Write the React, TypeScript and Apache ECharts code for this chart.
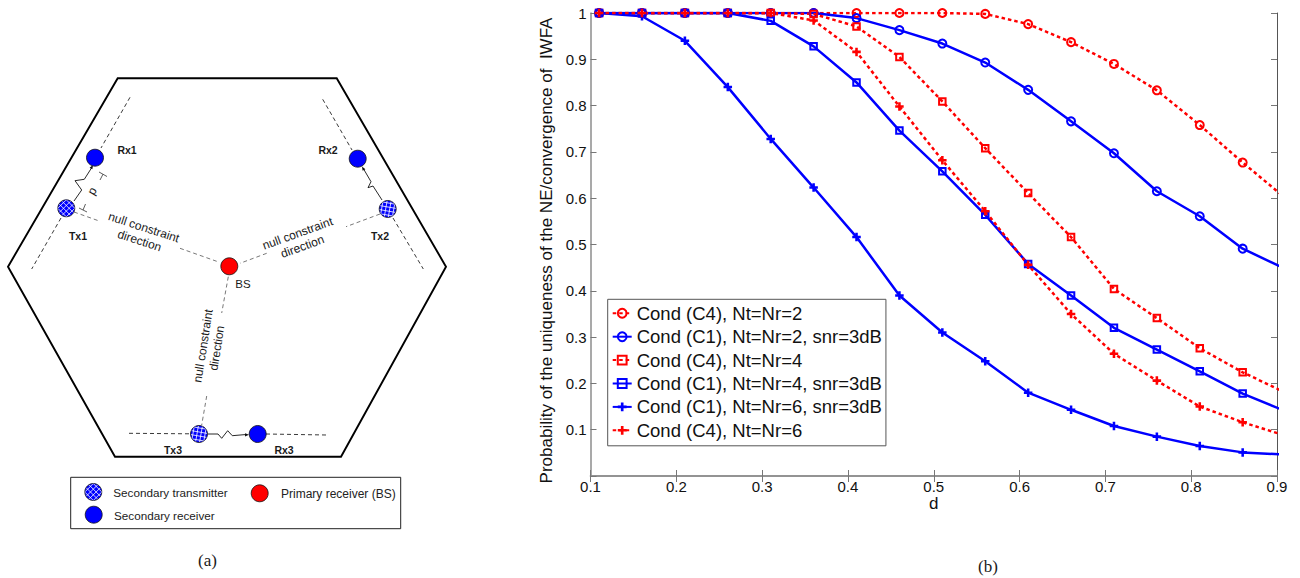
import React, { useEffect, useRef } from "react";
import * as echarts from "echarts";

const dValues = [0.11, 0.16, 0.21, 0.26, 0.31, 0.36, 0.41, 0.46, 0.51, 0.56, 0.61, 0.66, 0.71, 0.76, 0.81, 0.86, 0.91];
const c4Nt2 = [1, 1, 1, 1, 1, 1, 1, 1, 1, 0.998, 0.976, 0.937, 0.89, 0.833, 0.758, 0.677, 0.6];
const c1Nt2 = [1, 1, 1, 1, 1, 1, 0.989, 0.963, 0.934, 0.893, 0.834, 0.766, 0.697, 0.615, 0.561, 0.491, 0.447];
const c4Nt4 = [1, 1, 1, 1, 1, 0.998, 0.971, 0.905, 0.809, 0.708, 0.611, 0.516, 0.404, 0.341, 0.276, 0.224, 0.18];
const c1Nt4 = [1, 1, 1, 1, 0.983, 0.928, 0.85, 0.746, 0.658, 0.564, 0.458, 0.39, 0.32, 0.273, 0.226, 0.178, 0.14];
const c1Nt6 = [1, 0.993, 0.94, 0.84, 0.728, 0.623, 0.516, 0.39, 0.31, 0.248, 0.18, 0.143, 0.108, 0.085, 0.065, 0.051, 0.046];
const c4Nt6 = [1, 1, 1, 1, 1, 0.984, 0.916, 0.798, 0.682, 0.572, 0.456, 0.35, 0.264, 0.206, 0.15, 0.116, 0.087];
const seriesNames = [
  "Cond (C4), Nt=Nr=2",
  "Cond (C1), Nt=Nr=2, snr=3dB",
  "Cond (C4), Nt=Nr=4",
  "Cond (C1), Nt=Nr=4, snr=3dB",
  "Cond (C1), Nt=Nr=6, snr=3dB",
  "Cond (C4), Nt=Nr=6",
];
const seriesValues = [c4Nt2, c1Nt2, c4Nt4, c1Nt4, c1Nt6, c4Nt6];

const SANS = "'Liberation Sans', Arial, sans-serif";
const PLUS = "path://M3.5 0h3v3.5H10v3H6.5V10h-3V6.5H0v-3h3.5z";
const BLUE = "#0000ff";
const RED = "#ff0000";
const AXIS_GRAY = "#8c8c8c";

const poly = (points: number[][], stroke: string, lineWidth: number, lineDash?: number[]) => ({
  type: "polyline",
  silent: true,
  shape: { points },
  style: { stroke, lineWidth, fill: "none", lineDash: lineDash || null },
});

const label = (text: string, x: number, y: number, fontSize: number, fontWeight = "normal", rotation = 0, family = SANS, lineHeight?: number) => ({
  type: "text",
  silent: true,
  x,
  y,
  rotation: (rotation * Math.PI) / 180,
  style: { text, fontSize, fontWeight, fontFamily: family, fill: "#1a1a1a", align: "center", verticalAlign: "middle", lineHeight },
});

const disc = (cx: number, cy: number, fill: string, r = 8.5) => ({
  type: "circle",
  silent: true,
  shape: { cx, cy, r },
  style: { fill, stroke: "#111", lineWidth: 0.8 },
});

// white cross-hatching inside a transmitter disc
const hatched = (cx: number, cy: number, angleDeg: number, r = 8.5) => {
  const out: any[] = [disc(cx, cy, BLUE, r)];
  [angleDeg, angleDeg + 90].forEach((deg) => {
    const a = (deg * Math.PI) / 180;
    const ux = Math.cos(a), uy = Math.sin(a);
    for (let off = -6; off <= 6; off += 4) {
      const half = Math.sqrt(r * r - off * off) - 0.5;
      const mx = cx - uy * off, my = cy + ux * off;
      out.push({
        type: "line",
        silent: true,
        shape: { x1: mx - ux * half, y1: my - uy * half, x2: mx + ux * half, y2: my + uy * half },
        style: { stroke: "#fff", lineWidth: 0.8 },
      });
    }
  });
  return out;
};

const arrowHead = (x: number, y: number, dx: number, dy: number) => {
  const len = Math.hypot(dx, dy);
  const ux = dx / len, uy = dy / len;
  return {
    type: "polygon",
    silent: true,
    shape: {
      points: [
        [x, y],
        [x - ux * 4 - uy * 1.6, y - uy * 4 + ux * 1.6],
        [x - ux * 4 + uy * 1.6, y - uy * 4 - ux * 1.6],
      ],
    },
    style: { fill: "#111" },
  };
};

const diagram = (): any[] => [
  // cell boundary
  {
    type: "polygon",
    silent: true,
    shape: { points: [[117.7, 78.3], [336.7, 78.3], [446, 266.7], [341, 456.7], [115, 456.7], [8, 266.7]] },
    style: { fill: "none", stroke: "#000", lineWidth: 1.9 },
  },
  // black dashed secondary-link axes
  poly([[130, 97.3], [101, 148]], "#222", 0.9, [4, 3]),
  poly([[61, 218], [31.7, 269]], "#222", 0.9, [4, 3]),
  poly([[322.7, 99.3], [352, 150]], "#222", 0.9, [4, 3]),
  poly([[393, 218], [423.3, 269]], "#222", 0.9, [4, 3]),
  poly([[129, 433.3], [190, 433.8]], "#222", 0.9, [4, 3]),
  poly([[266, 434], [326.7, 435]], "#222", 0.9, [4, 3]),
  // null constraint directions
  poly([[74, 212], [100, 221.3]], "#555", 0.8, [4, 3]),
  poly([[180, 248.3], [216.7, 261.3]], "#555", 0.8, [4, 3]),
  poly([[380, 214], [346, 226.7]], "#555", 0.8, [4, 3]),
  poly([[266.7, 253.3], [240, 263.3]], "#555", 0.8, [4, 3]),
  poly([[228.3, 276.7], [221.7, 313]], "#555", 0.8, [4, 3]),
  poly([[206.7, 396], [201.7, 425]], "#555", 0.8, [4, 3]),
  // zig-zag links
  poly([[74, 201], [81.7, 190], [75, 180.7], [84.3, 179.3], [91.7, 167.7]], "#111", 0.9),
  arrowHead(93, 165, 7, -12),
  poly([[382, 200], [373, 186], [368, 187.7], [371, 181.7], [363, 168]], "#111", 0.9),
  arrowHead(362, 166.5, -7, -12),
  poly([[208, 434], [218, 434], [221.7, 438.3], [227.7, 430.7], [232.3, 435.7], [245, 434.6]], "#111", 0.9),
  arrowHead(249, 434.8, 12, 0),
  // distance marker d
  poly([[99, 172], [107, 176.5]], "#333", 0.8),
  poly([[103, 174.2], [100, 180]], "#333", 0.8),
  poly([[79, 208], [87, 212]], "#333", 0.8),
  poly([[83, 210], [85.5, 204]], "#333", 0.8),
  label("d", 93.5, 192, 12, "normal", -120),
  // stations
  disc(95, 157.7, BLUE),
  disc(357.7, 158.7, BLUE),
  disc(257.7, 434, BLUE),
  disc(229.3, 266.3, RED),
  ...hatched(66.3, 208.3, 45),
  ...hatched(387.7, 209, 10),
  ...hatched(199, 434, 10),
  label("Rx1", 127, 150, 10.5, "bold"),
  label("Rx2", 328, 150, 10.5, "bold"),
  label("Tx1", 78, 236, 10.5, "bold"),
  label("Tx2", 380, 236, 10.5, "bold"),
  label("Tx3", 173, 450, 10.5, "bold"),
  label("Rx3", 284, 450, 10.5, "bold"),
  label("BS", 243, 284, 11.5),
  label("null constraint\ndirection", 141.7, 234, 12, "normal", -18, SANS, 14),
  label("null constraint\ndirection", 300, 240, 12, "normal", 20, SANS, 14),
  label("null constraint\ndirection", 210, 347, 12, "normal", 81, SANS, 14),
  // diagram key
  {
    type: "rect",
    silent: true,
    shape: { x: 70.7, y: 477.3, width: 330, height: 51.4 },
    style: { fill: "#fff", stroke: "#222", lineWidth: 1 },
  },
  ...hatched(93.3, 492, 45),
  disc(93.7, 514.7, BLUE),
  disc(259.7, 493.3, RED),
  {
    type: "text", silent: true, x: 113.3, y: 492,
    style: { text: "Secondary transmitter", fontSize: 11.7, fontFamily: SANS, fill: "#222", align: "left", verticalAlign: "middle" },
  },
  {
    type: "text", silent: true, x: 114, y: 515,
    style: { text: "Secondary receiver", fontSize: 11.7, fontFamily: SANS, fill: "#222", align: "left", verticalAlign: "middle" },
  },
  {
    type: "text", silent: true, x: 281, y: 494,
    style: { text: "Primary receiver (BS)", fontSize: 12, fontFamily: SANS, fill: "#222", align: "left", verticalAlign: "middle" },
  },
  label("(a)", 207.5, 560.7, 17, "normal", 0, "'Liberation Serif', serif"),
  label("(b)", 988, 566, 17, "normal", 0, "'Liberation Serif', serif"),
];

const styles = [
  { color: RED, dashed: true, symbol: "circle", size: 8 },
  { color: BLUE, dashed: false, symbol: "circle", size: 8 },
  { color: RED, dashed: true, symbol: "rect", size: 6.5 },
  { color: BLUE, dashed: false, symbol: "rect", size: 6.5 },
  { color: BLUE, dashed: false, symbol: PLUS, size: 8.5 },
  { color: RED, dashed: true, symbol: PLUS, size: 8.5 },
];

export default function App() {
  const ref = useRef<HTMLDivElement>(null);
  useEffect(() => {
    const chart = echarts.init(ref.current!, undefined, { renderer: "svg" });
    const axisBase = {
      type: "value" as const,
      axisLine: { show: true, lineStyle: { color: AXIS_GRAY, width: 1.5 } },
      axisTick: { show: true, inside: true, length: 6, lineStyle: { color: "#777", width: 1 } },
      splitLine: { show: false },
    };
    chart.setOption({
      animation: false,
      backgroundColor: "#fff",
      textStyle: { fontFamily: SANS },
      grid: { left: 590.5, right: 23, top: 13, bottom: 102, containLabel: false },
      xAxis: [
        {
          ...axisBase,
          min: 0.1,
          max: 0.9,
          interval: 0.1,
          name: "d",
          nameLocation: "middle",
          nameGap: 18.5,
          nameMoveOverlap: false,
          nameTextStyle: { fontSize: 17, color: "#111", fontFamily: SANS },
          axisLabel: { fontSize: 15, color: "#111", margin: 3, fontFamily: SANS, formatter: (v: number) => v.toFixed(1) },
        },
        {
          ...axisBase,
          position: "top",
          min: 0.1,
          max: 0.9,
          interval: 0.1,
          axisLabel: { show: false },
        },
      ],
      yAxis: [
        {
          ...axisBase,
          min: 0,
          max: 1,
          interval: 0.1,
          name: "Probability of the uniqueness of the NE/convergence of  IWFA",
          nameLocation: "middle",
          nameGap: 36,
          nameTextStyle: { fontSize: 17, color: "#111", fontFamily: SANS, padding: [0, 12, 0, 0] },
          axisLabel: {
            fontSize: 15,
            color: "#111",
            margin: 4,
            fontFamily: SANS,
            formatter: (v: number) => (v === 0 ? "" : v === 1 ? "1" : v.toFixed(1)),
          },
        },
        {
          ...axisBase,
          position: "right",
          min: 0,
          max: 1,
          interval: 0.1,
          axisLine: { show: true, lineStyle: { color: "#555", width: 1 } },
          axisLabel: { show: false },
        },
      ],
      legend: {
        orient: "vertical",
        left: 607.7,
        top: 299.3,
        padding: [4.5, 4, 6, 4],
        itemWidth: 19,
        itemHeight: 11,
        itemGap: 4.4,
        backgroundColor: "#fff",
        borderColor: "#555",
        borderWidth: 1,
        borderRadius: 0,
        textStyle: { fontSize: 18.5, color: "#111", fontFamily: SANS },
        data: seriesNames,
      },
      series: seriesNames.map((name, i) => ({
        name,
        type: "line",
        clip: true,
        data: dValues.map((d, k) => [d, seriesValues[i][k]]),
        symbol: styles[i].symbol,
        symbolSize: styles[i].size,
        showSymbol: true,
        showAllSymbol: true,
        lineStyle: { color: styles[i].color, width: 2.5, type: styles[i].dashed ? [3.5, 3] : "solid" },
        itemStyle:
          styles[i].symbol === PLUS
            ? { color: styles[i].color, borderWidth: 0 }
            : { color: "transparent", borderColor: styles[i].color, borderWidth: 2 },
        emphasis: { disabled: true },
      })),
      graphic: { elements: diagram() },
    });
    return () => chart.dispose();
  }, []);
  return <div ref={ref} style={{ position: "fixed", left: 0, top: 0, width: 1300, height: 578 }} />;
}
